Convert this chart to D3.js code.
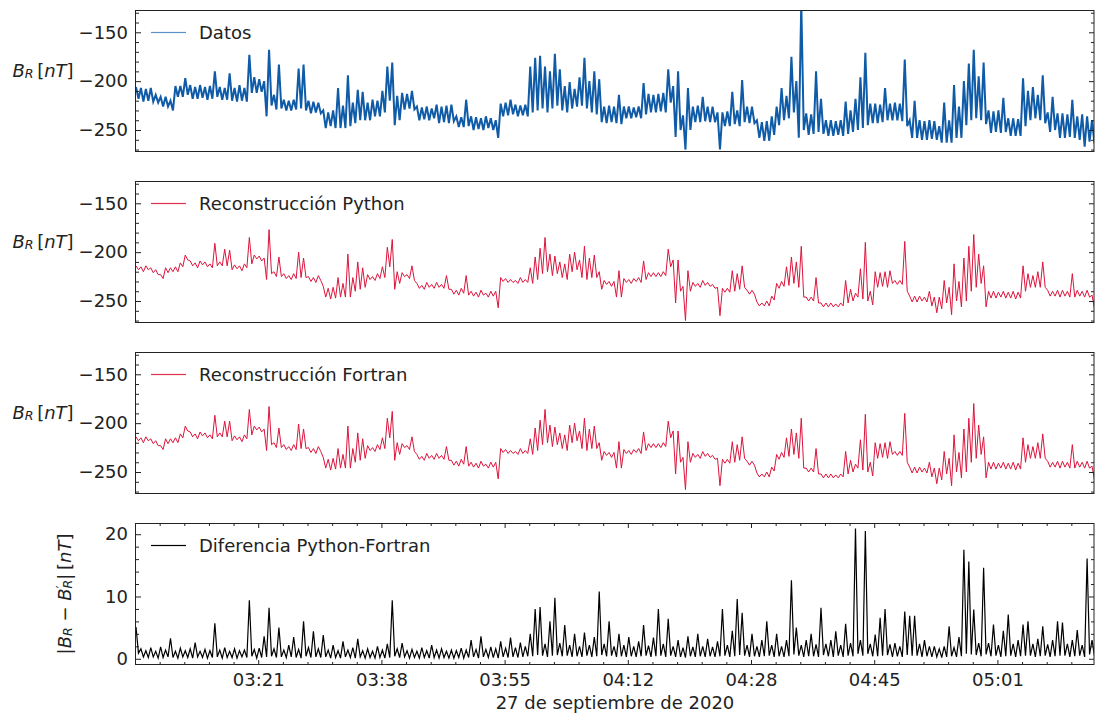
<!DOCTYPE html>
<html>
<head>
<meta charset="utf-8">
<script src="https://cdn.jsdelivr.net/npm/d3@7"></script>
<style>
  body { margin: 0; background: #fff; }
  svg { display: block; }
  text { font-family: "DejaVu Sans", sans-serif; }
</style>
</head>
<body>
<svg id="chart" width="1096" height="715"></svg>
<script>
// ---- data -----------------------------------------------------------
// Each series is stored as the upper and lower value reached inside
// consecutive 40 s bins; the trace visits the upper value at the start
// of a bin and the lower value half a bin later.
const sampleStep = 40;          // seconds per bin
const windowSeconds = 7776;     // length of the plotted window in seconds

// Time ticks (seconds from window start) and their labels
const timeTicks  = [992, 1992, 2992, 3992, 4992, 5992, 6992];
const timeLabels = ["03:21", "03:38", "03:55", "04:12", "04:28", "04:45", "05:01"];
const dateLabel  = "27 de septiembre de 2020";

// Measured radial field B_R [nT]
const datosHigh = [
  -206,-207,-208,-207,-214,-216,-216,-220,-205,-205,
  -197,-204,-206,-204,-206,-205,-190,-206,-207,-192,
  -207,-204,-207,-173,-196,-198,-200,-168,-214,-183,
  -219,-220,-219,-187,-183,-220,-221,-222,-230,-232,
  -230,-207,-225,-194,-222,-209,-211,-222,-219,-220,
  -210,-185,-181,-215,-212,-213,-210,-226,-227,-226,
  -228,-224,-226,-225,-224,-236,-237,-219,-236,-237,
  -238,-236,-238,-240,-223,-222,-219,-224,-225,-224,
  -185,-176,-174,-185,-190,-172,-188,-205,-201,-208,
  -196,-176,-200,-190,-198,-226,-225,-226,
  -214,-226,-226,-227,-226,-202,-213,-214,-213,-212,
  -188,-205,-190,-235,-207,-226,-225,-216,-226,-226,
  -232,-232,-231,-211,-230,-199,-226,-226,-240,-242,
  -241,-236,-226,-207,-215,-175,-200,-120,-233,-234,
  -190,-218,-240,-240,-241,-240,-221,-230,-218,-196,
  -171,-223,-223,-224,-207,-223,-222,-223,-178,-240,
  -220,-240,-241,-240,-241,-246,-222,-240,-204,-226,
  -200,-182,-168,-195,-181,-230,-231,-230,-217,-238,
  -238,-239,-197,-210,-206,-214,-194,-232,-216,-233,
  -233,-234,-219,-236,-234,-236,-240
];
const datosLow = [
  -218,-221,-220,-221,-222,-226,-226,-230,-216,-216,
  -214,-218,-218,-217,-219,-218,-216,-219,-219,-220,
  -221,-220,-221,-212,-212,-211,-236,-225,-229,-228,
  -230,-230,-229,-228,-230,-233,-232,-233,-248,-246,
  -248,-248,-248,-246,-243,-240,-240,-240,-236,-236,
  -232,-220,-245,-240,-229,-228,-229,-240,-239,-240,
  -238,-243,-242,-243,-241,-247,-247,-246,-250,-249,
  -250,-248,-250,-258,-236,-235,-234,-236,-235,-236,
  -232,-230,-228,-232,-228,-225,-230,-232,-228,-226,
  -225,-228,-232,-234,-242,-243,-242,-243,
  -244,-238,-238,-237,-238,-234,-232,-232,-231,-232,
  -222,-257,-250,-270,-250,-242,-242,-241,-242,-242,
  -270,-246,-246,-244,-246,-242,-243,-243,-258,-261,
  -261,-255,-245,-240,-238,-232,-258,-250,-255,-254,
  -252,-254,-256,-256,-255,-256,-254,-252,-250,-248,
  -245,-243,-243,-242,-240,-240,-240,-241,-246,-258,
  -258,-260,-260,-259,-260,-263,-263,-263,-258,-258,
  -245,-240,-238,-240,-244,-253,-252,-253,-252,-256,
  -256,-256,-246,-240,-238,-240,-243,-252,-250,-258,
  -258,-257,-258,-260,-267,-262,-264
];

// Reconstruction computed with the Python code
const pythonHigh = [
  -214,-215,-214,-216,-218,-223,-216,-216,-215,-211,
  -203,-209,-211,-209,-210,-212,-191,-210,-197,-198,
  -213,-214,-212,-185,-203,-204,-206,-177,-220,-205,
  -222,-224,-222,-200,-206,-225,-226,-224,-235,-237,
  -236,-226,-232,-202,-226,-210,-216,-223,-225,-222,
  -215,-195,-187,-220,-221,-223,-214,-232,-234,-231,
  -233,-231,-233,-224,-238,-239,-237,-224,-240,-241,
  -239,-242,-240,-240,-226,-227,-228,-229,-226,-228,
  -216,-205,-196,-185,-202,-204,-210,-212,-202,-200,
  -208,-194,-206,-203,-220,-229,-230,-230,
  -219,-227,-228,-227,-226,-209,-221,-221,-221,-220,
  -197,-208,-208,-235,-219,-231,-232,-229,-231,-233,
  -236,-237,-237,-219,-222,-214,-239,-239,-251,-252,
  -250,-245,-232,-230,-215,-205,-210,-194,-246,-246,
  -226,-252,-252,-252,-253,-252,-229,-238,-242,-217,
  -190,-240,-220,-221,-220,-219,-229,-229,-189,-245,
  -245,-245,-246,-240,-246,-246,-229,-236,-212,-230,
  -206,-194,-182,-202,-214,-240,-240,-241,-240,-241,
  -240,-241,-214,-222,-224,-220,-210,-239,-240,-239,
  -239,-240,-222,-239,-240,-239,-244
];
const pythonLow = [
  -218,-220,-218,-221,-223,-227,-221,-220,-220,-215,
  -208,-214,-216,-213,-215,-216,-214,-214,-214,-218,
  -217,-219,-216,-212,-207,-209,-228,-222,-225,-225,
  -227,-228,-227,-226,-226,-230,-231,-229,-246,-248,
  -247,-246,-246,-246,-240,-238,-236,-228,-229,-227,
  -226,-215,-238,-232,-225,-227,-229,-237,-238,-236,
  -237,-236,-237,-238,-243,-244,-242,-244,-245,-246,
  -244,-246,-245,-257,-230,-231,-231,-232,-231,-231,
  -232,-228,-222,-220,-224,-222,-226,-228,-220,-218,
  -226,-228,-226,-226,-238,-233,-235,-246,
  -246,-231,-232,-230,-231,-228,-225,-225,-225,-224,
  -215,-252,-240,-270,-240,-235,-236,-234,-235,-237,
  -265,-241,-241,-240,-238,-236,-243,-243,-255,-255,
  -255,-249,-237,-235,-234,-232,-236,-246,-250,-250,
  -252,-256,-256,-256,-256,-255,-252,-250,-246,-248,
  -250,-254,-236,-235,-236,-232,-233,-233,-240,-251,
  -251,-250,-251,-255,-262,-258,-252,-264,-250,-256,
  -250,-240,-236,-232,-256,-247,-247,-246,-247,-247,
  -248,-247,-240,-236,-236,-236,-236,-245,-245,-246,
  -245,-246,-246,-245,-246,-246,-258
];

// Reconstruction computed with the Fortran code
const fortranHigh = [
  -214,-215,-214,-216,-218,-223,-216,-216,-215,-211,
  -203,-209,-211,-209,-210,-212,-192,-210,-198,-198,
  -213,-214,-212,-186,-203,-204,-206,-183,-220,-205,
  -222,-224,-222,-201,-206,-225,-226,-224,-235,-237,
  -236,-226,-232,-203,-226,-210,-216,-223,-225,-222,
  -215,-195,-188,-220,-221,-223,-214,-232,-234,-231,
  -233,-231,-233,-224,-238,-239,-237,-224,-240,-241,
  -239,-242,-240,-240,-226,-227,-228,-229,-226,-228,
  -216,-205,-197,-186,-202,-204,-210,-212,-202,-200,
  -208,-195,-206,-203,-220,-229,-230,-230,
  -219,-227,-228,-227,-226,-209,-221,-221,-221,-220,
  -198,-208,-208,-235,-219,-231,-232,-229,-231,-233,
  -236,-237,-237,-219,-222,-214,-239,-239,-251,-252,
  -250,-245,-232,-230,-215,-206,-210,-195,-246,-246,
  -226,-252,-252,-252,-253,-252,-229,-238,-242,-217,
  -191,-240,-220,-221,-220,-219,-229,-229,-190,-245,
  -245,-245,-246,-240,-246,-246,-229,-236,-212,-230,
  -206,-195,-180,-202,-214,-240,-240,-241,-240,-241,
  -240,-241,-215,-222,-224,-220,-211,-239,-240,-239,
  -239,-240,-222,-239,-240,-239,-244
];
const fortranLow = [
  -218,-220,-218,-221,-223,-227,-221,-220,-220,-215,
  -208,-214,-216,-213,-215,-216,-214,-214,-214,-218,
  -217,-219,-216,-212,-207,-209,-228,-222,-225,-225,
  -227,-228,-227,-226,-226,-230,-231,-229,-246,-248,
  -247,-246,-246,-246,-240,-238,-236,-228,-229,-227,
  -226,-215,-238,-232,-225,-227,-229,-237,-238,-236,
  -237,-236,-237,-238,-243,-244,-242,-244,-245,-246,
  -244,-246,-245,-257,-230,-231,-231,-232,-231,-231,
  -232,-228,-222,-220,-224,-222,-226,-228,-220,-218,
  -226,-228,-226,-226,-238,-233,-235,-246,
  -246,-231,-232,-230,-231,-228,-225,-225,-225,-224,
  -215,-252,-240,-268,-240,-235,-236,-234,-235,-237,
  -264,-241,-241,-240,-238,-236,-243,-243,-255,-255,
  -255,-249,-237,-235,-234,-232,-236,-246,-250,-250,
  -252,-256,-256,-256,-256,-255,-252,-250,-246,-248,
  -250,-254,-236,-235,-236,-232,-233,-233,-240,-251,
  -251,-250,-251,-255,-262,-258,-252,-264,-250,-256,
  -250,-240,-236,-232,-256,-247,-247,-246,-247,-247,
  -248,-247,-240,-236,-236,-236,-236,-245,-245,-246,
  -245,-246,-246,-245,-246,-246,-258
];

// |B_R - B'_R| [nT]
const diferenciaHigh = [
  5.1,1.6,1.3,1.8,1.2,1.9,1.4,3.3,1.2,1.7,
  1.3,1.6,2.6,1.2,1.5,1.3,5.7,1.4,1.8,1.2,
  1.6,1.3,1.4,9.4,1.5,1.7,3.6,8.2,1.6,5.0,
  1.4,2.2,3.5,1.5,6.0,1.8,4.4,1.6,3.8,1.4,
  2.2,1.3,2.8,1.4,1.8,3.2,1.3,1.6,1.2,2.0,
  1.4,2.4,9.4,1.6,2.5,1.3,1.5,1.2,1.8,1.3,
  2.2,1.4,1.6,1.2,1.4,1.3,1.7,1.4,3.0,1.5,
  3.6,1.5,1.9,1.6,2.8,1.7,3.4,1.8,2.6,2.0,
  4.0,8.0,8.3,2.4,6.0,9.8,2.5,5.4,2.2,4.0,
  2.0,4.2,2.2,3.5,10.8,2.4,6.0,2.0,4.0,2.2,
  3.5,2.0,2.8,5.4,2.1,3.4,8.0,2.4,6.4,2.0,
  3.0,1.8,3.6,1.9,4.0,2.0,3.2,1.9,2.8,8.0,
  2.2,4.5,9.6,7.4,2.2,4.0,2.0,3.0,6.0,2.2,
  4.0,2.0,3.0,12.6,5.0,2.2,3.0,4.0,2.3,8.2,
  2.4,3.0,4.4,2.2,5.6,2.5,20.9,3.0,20.5,2.4,
  3.9,6.6,8.0,2.3,2.5,2.0,7.6,6.9,6.9,2.4,
  3.0,2.0,2.0,1.6,2.0,5.2,1.8,3.5,17.5,15.6,
  7.9,2.5,14.6,2.5,5.5,2.2,4.5,7.1,2.4,3.0,
  5.5,6.0,2.4,3.2,5.2,2.3,3.0,6.0,5.8,2.4,
  3.0,4.6,2.2,16.1,3.0
];
const diferenciaLow = [
  0.9,0.3,0.2,0.3,0.1,0.2,0.3,0.2,0.1,0.3,
  0.2,0.1,0.3,0.2,0.1,0.2,0.3,0.1,0.2,0.2,
  0.1,0.3,0.2,0.4,0.1,0.2,0.3,0.4,0.2,0.3,
  0.2,0.3,0.2,0.1,0.4,0.2,0.3,0.2,0.3,0.1,
  0.2,0.1,0.3,0.2,0.1,0.3,0.1,0.2,0.1,0.2,
  0.1,0.2,0.4,0.2,0.3,0.1,0.2,0.1,0.2,0.1,
  0.2,0.1,0.2,0.1,0.1,0.2,0.1,0.2,0.3,0.1,
  0.3,0.2,0.2,0.1,0.3,0.2,0.3,0.2,0.3,0.4,
  0.4,0.6,0.5,0.3,0.5,0.6,0.4,0.5,0.3,0.4,
  0.3,0.5,0.3,0.4,0.6,0.4,0.5,0.3,0.4,0.3,
  0.4,0.3,0.4,0.5,0.3,0.4,0.5,0.3,0.5,0.3,
  0.3,0.2,0.4,0.3,0.4,0.3,0.4,0.3,0.4,0.5,
  0.3,0.4,0.6,0.5,0.3,0.4,0.3,0.4,0.5,0.3,
  0.4,0.3,0.4,0.7,0.5,0.3,0.4,0.4,0.3,0.6,
  0.4,0.3,0.5,0.3,0.5,0.4,0.8,0.5,0.8,0.4,
  0.4,0.5,0.6,0.3,0.4,0.3,0.6,0.5,0.5,0.3,
  0.4,0.3,0.3,0.2,0.3,0.4,0.3,0.4,0.8,0.7,
  0.6,0.4,0.7,0.4,0.5,0.3,0.4,0.5,0.3,0.4,
  0.5,0.5,0.3,0.4,0.5,0.3,0.4,0.5,0.5,0.3,
  0.4,0.5,0.3,0.7,0.4
];

// ---- layout ---------------------------------------------------------
const svg = d3.select("#chart");
const plotLeft = 136, plotRight = 1094;
const panelHeight = 142;
const labelFont = 18;
const textColor = "#222";

const x = d3.scaleLinear().domain([0, windowSeconds]).range([plotLeft, plotRight]);

// interleave the bin maxima and minima into one time-ordered trace
function trace(high, low) {
  const pts = [];
  high.forEach((h, i) => {
    pts.push([i * sampleStep, h]);
    pts.push([i * sampleStep + sampleStep / 2, low[i]]);
  });
  return pts;
}

const panels = [
  { top: 10,  points: trace(datosHigh, datosLow), color: "#0f5ba7", legendColor: "#5d8fca", width: 2.0,
    name: "Datos", domain: [-272.5, -127.2], major: [-250, -200, -150], minorStep: 10, label: "horizontal" },
  { top: 181, points: trace(pythonHigh, pythonLow), color: "#dc143c", legendColor: "#e0304f", width: 1.0,
    name: "Reconstrucción Python", domain: [-272.5, -127.2], major: [-250, -200, -150], minorStep: 10, label: "horizontal" },
  { top: 352, points: trace(fortranHigh, fortranLow), color: "#dc143c", legendColor: "#e0304f", width: 1.0,
    name: "Reconstrucción Fortran", domain: [-272.5, -127.2], major: [-250, -200, -150], minorStep: 10, label: "horizontal" },
  { top: 523, points: trace(diferenciaHigh, diferenciaLow), color: "#000000", legendColor: "#000000", width: 1.2,
    name: "Diferencia Python-Fortran", domain: [-1.0, 21.8], major: [0, 10, 20], minorStep: 2, label: "vertical", timeAxis: true }
];

function minorValues(domain, step, major) {
  const out = [];
  const start = Math.ceil(domain[0] / step) * step;
  for (let v = start; v <= domain[1] + 1e-9; v += step) {
    if (!major.some(m => Math.abs(m - v) < 1e-9)) out.push(+v.toFixed(6));
  }
  return out;
}

const defs = svg.append("defs");
const legendLayer = [];

panels.forEach((p, idx) => {
  const top = p.top, bottom = p.top + panelHeight;
  const y = d3.scaleLinear().domain(p.domain).range([bottom, top]);
  const g = svg.append("g").attr("class", "panel panel-" + idx);

  const clipId = "plotclip-" + idx;
  defs.append("clipPath").attr("id", clipId)
    .append("rect").attr("x", plotLeft).attr("y", top)
    .attr("width", plotRight - plotLeft).attr("height", panelHeight);

  // series trace
  const line = d3.line().x(d => x(d[0])).y(d => y(d[1]));
  g.append("g").attr("clip-path", `url(#${clipId})`)
    .append("path")
    .datum(p.points)
    .attr("fill", "none")
    .attr("stroke", p.color)
    .attr("stroke-width", p.width)
    .attr("stroke-linejoin", "miter")
    .attr("d", line);

  // y axes (inward ticks on both sides)
  const minors = minorValues(p.domain, p.minorStep, p.major);
  const left = g.append("g").attr("transform", `translate(${plotLeft},0)`);
  left.call(d3.axisLeft(y).tickValues(p.major).tickSize(-5).tickPadding(8)
    .tickFormat(d3.format("d")));
  left.append("g").call(d3.axisLeft(y).tickValues(minors).tickSize(-3).tickFormat(""));
  const right = g.append("g").attr("transform", `translate(${plotRight},0)`);
  right.call(d3.axisRight(y).tickValues(p.major).tickSize(-5).tickFormat(""));
  right.append("g").call(d3.axisRight(y).tickValues(minors).tickSize(-3).tickFormat(""));

  // time axis only on the bottom panel (ticks top and bottom)
  if (p.timeAxis) {
    const minorT = [];
    for (let t = timeTicks[0] % 200; t <= windowSeconds; t += 200) {
      if (!timeTicks.includes(t) && t > 0) minorT.push(t);
    }
    const b = g.append("g").attr("transform", `translate(0,${bottom})`);
    b.call(d3.axisBottom(x).tickValues(timeTicks).tickSize(-5).tickPadding(8)
      .tickFormat((d, i) => timeLabels[i]));
    b.append("g").call(d3.axisBottom(x).tickValues(minorT).tickSize(-3).tickFormat(""));
    const t = g.append("g").attr("transform", `translate(0,${top})`);
    t.call(d3.axisTop(x).tickValues(timeTicks).tickSize(-5).tickFormat(""));
    t.append("g").call(d3.axisTop(x).tickValues(minorT).tickSize(-3).tickFormat(""));
  }

  g.selectAll(".domain").remove();
  g.selectAll(".tick line").attr("stroke", "#222").attr("stroke-width", 1);
  g.selectAll(".tick text").attr("font-size", labelFont).attr("fill", textColor)
    .attr("font-family", "DejaVu Sans");

  // frame
  g.append("rect")
    .attr("x", plotLeft - 0.5).attr("y", top + 0.5)
    .attr("width", plotRight - plotLeft + 0.5).attr("height", panelHeight - 1)
    .attr("fill", "none").attr("stroke", "#222").attr("stroke-width", 1);

  legendLayer.push({ y: top + 22.5, color: p.legendColor, name: p.name });

  // y label
  if (p.label === "horizontal") {
    const t = g.append("text").attr("x", 43).attr("y", top + 67)
      .attr("text-anchor", "middle").attr("font-size", labelFont).attr("fill", textColor);
    t.append("tspan").attr("font-style", "italic").text("B");
    t.append("tspan").attr("font-style", "italic").attr("font-size", 12.6).attr("dy", 1).text("R");
    t.append("tspan").attr("dy", -1).text("\u2009[");
    t.append("tspan").attr("font-style", "italic").text("nT");
    t.append("tspan").text("]");
  } else {
    const cy = top + panelHeight / 2;
    const t = g.append("text").attr("transform", `translate(71,${cy}) rotate(-90)`)
      .attr("text-anchor", "middle").attr("font-size", labelFont).attr("fill", textColor);
    t.append("tspan").text("|");
    t.append("tspan").attr("font-style", "italic").text("B");
    t.append("tspan").attr("font-style", "italic").attr("font-size", 12.6).attr("dy", 1).text("R");
    t.append("tspan").attr("dy", -1).text(" \u2212 ");
    t.append("tspan").attr("font-style", "italic").text("B");
    t.append("tspan").attr("font-size", 12.6).attr("dy", -6).text("\u2032");
    t.append("tspan").attr("font-style", "italic").attr("font-size", 12.6).attr("dx", -3).attr("dy", 7).text("R");
    t.append("tspan").attr("dy", -1).text("|\u2009[");
    t.append("tspan").attr("font-style", "italic").text("nT");
    t.append("tspan").text("]");
  }
});

// legends, drawn last as filled swatches so nothing overlaps them
const legends = svg.append("g").attr("class", "legends");
legends.selectAll("rect").data(legendLayer).join("rect")
  .attr("x", 151).attr("width", 35)
  .attr("y", d => d.y - 0.6).attr("height", 1.2)
  .attr("fill", d => d.color);
legends.selectAll("text").data(legendLayer).join("text")
  .attr("x", 199).attr("y", d => d.y + 6.5)
  .attr("font-size", labelFont).attr("fill", textColor)
  .text(d => d.name);

// date label under the time axis
svg.append("text").attr("x", (plotLeft + plotRight) / 2).attr("y", 709)
  .attr("text-anchor", "middle").attr("font-size", labelFont).attr("fill", textColor)
  .text(dateLabel);
</script>
</body>
</html>
